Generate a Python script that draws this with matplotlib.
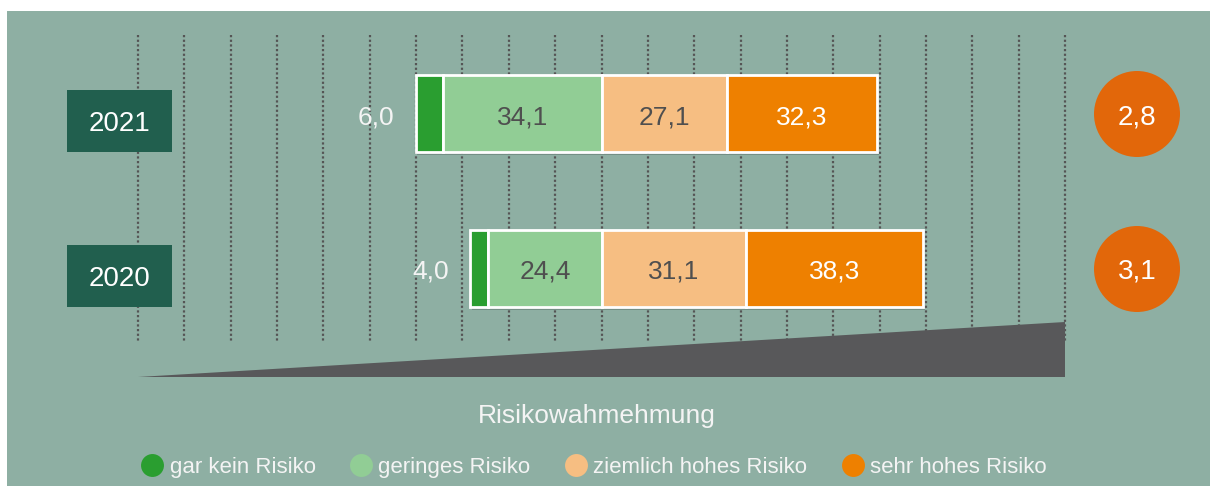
import numpy as np
import matplotlib
matplotlib.use("Agg")
import matplotlib.pyplot as plt
from matplotlib.patches import Polygon
from matplotlib.lines import Line2D

plt.rcParams['font.family'] = ['Liberation Sans', 'DejaVu Sans']

# ------------------------------------------------------------
# Data
# ------------------------------------------------------------
years = ["2021", "2020"]
gar_kein = np.array([6.0, 4.0])
geringes = np.array([34.1, 24.4])
ziemlich = np.array([27.1, 31.1])
sehr_hoch = np.array([32.3, 38.3])
averages = [2.8, 3.1]
categories = ["gar kein Risiko", "geringes Risiko", "ziemlich hohes Risiko", "sehr hohes Risiko"]
colors = ["#2A9E30", "#91CD95", "#F6BE82", "#EE8000"]
axis_label = "Risikowahmehmung"

BG = "#8EAFA3"
BOX = "#215F4E"
CIRCLE = "#E2670A"
DARK = "#4F4F4F"
LIGHT = "#F4F4F4"


def de(v):
    return f"{v:.1f}".replace(".", ",")


# ------------------------------------------------------------
# Layout: x in percent (0 = between geringes/ziemlich), y in px rows
# ------------------------------------------------------------
W, H = 1210, 486
PX_PER_UNIT = 4.635
X0 = 601.5

fig = plt.figure(figsize=(W / 100, H / 100), dpi=100)
fig.patch.set_facecolor("white")
ax = fig.add_axes([7 / W, 0, 1 - 7 / W, 1 - 11 / H])
ax.set_facecolor(BG)
ax.set_xlim((7 - X0) / PX_PER_UNIT, (W - X0) / PX_PER_UNIT)
ax.set_ylim(H, 11)
ax.axis("off")
ax.add_patch(plt.Rectangle((0, 0), 1, 1, transform=ax.transAxes, color=BG, zorder=0))

rows = np.array([114, 269])
bar_h = 77
TXT_DY = 3  # optical centring of digits

# dotted grid
ax.vlines(np.arange(-100, 101, 10), 35, 343, colors="#555555",
          linestyles=(0, (1, 1.1)), linewidth=1.6, zorder=1)

# wedge (perception scale)
ax.add_patch(Polygon([(-100, 377), (100, 377), (100, 322)], closed=True,
                     facecolor="#58585A", edgecolor="none", zorder=2))

# bar shadows
left_edge = -(geringes + gar_kein)
total = gar_kein + geringes + ziemlich + sehr_hoch
ax.barh(rows + 3, total, left=left_edge + 0.4, height=bar_h, color="black",
        alpha=0.18, zorder=2)

# stacked bars
ax.barh(rows, gar_kein, left=left_edge, height=bar_h, color=colors[0],
        edgecolor="white", linewidth=2, zorder=3)
ax.barh(rows, geringes, left=-geringes, height=bar_h, color=colors[1],
        edgecolor="white", linewidth=2, zorder=3)
ax.barh(rows, ziemlich, left=0, height=bar_h, color=colors[2],
        edgecolor="white", linewidth=2, zorder=3)
ax.barh(rows, sehr_hoch, left=ziemlich, height=bar_h, color=colors[3],
        edgecolor="white", linewidth=2, zorder=3)

fs_val = 19
for i, y in enumerate(rows):
    ty = y + TXT_DY
    ax.text(left_edge[i] - 4.6, ty, de(gar_kein[i]), ha="right", va="center",
            color=LIGHT, fontsize=fs_val, zorder=5)
    ax.text(-geringes[i] / 2, ty, de(geringes[i]), ha="center", va="center",
            color=DARK, fontsize=fs_val, zorder=5)
    ax.text(ziemlich[i] / 2, ty, de(ziemlich[i]), ha="center", va="center",
            color=DARK, fontsize=fs_val, zorder=5)
    ax.text(ziemlich[i] + sehr_hoch[i] / 2, ty, de(sehr_hoch[i]), ha="center",
            va="center", color="white", fontsize=fs_val, zorder=5)

# year boxes
box_left = (67 - X0) / PX_PER_UNIT
box_w = 105 / PX_PER_UNIT
ax.barh(rows + 7, box_w, left=box_left, height=62, color=BOX, zorder=4)
for i, y in enumerate(rows):
    ax.text(box_left + box_w / 2, y + 7 + TXT_DY, years[i], ha="center", va="center",
            color="white", fontsize=20, zorder=5)

# average circles
cx = (1137 - X0) / PX_PER_UNIT
ax.scatter([cx] * len(rows), rows, s=(86 * 0.72) ** 2, color=CIRCLE,
           edgecolors="none", zorder=4)
for i, y in enumerate(rows):
    ax.text(cx, y + TXT_DY, de(averages[i]), ha="center", va="center",
            color="white", fontsize=20, zorder=5)

ax.text(-1, 416, axis_label, ha="center", va="center", color=LIGHT, fontsize=19)

handles = [Line2D([], [], marker="o", linestyle="none", markersize=16.5,
                  markerfacecolor=c, markeredgecolor="none") for c in colors]
leg = ax.legend(handles, categories, loc="center", ncol=4, frameon=False,
                bbox_to_anchor=(594 / W, (H - 467) / H), bbox_transform=fig.transFigure,
                fontsize=16, handletextpad=0.28, columnspacing=1.55,
                handlelength=1.0, labelcolor=LIGHT)

fig.savefig("out.png", dpi=100, facecolor="white")
